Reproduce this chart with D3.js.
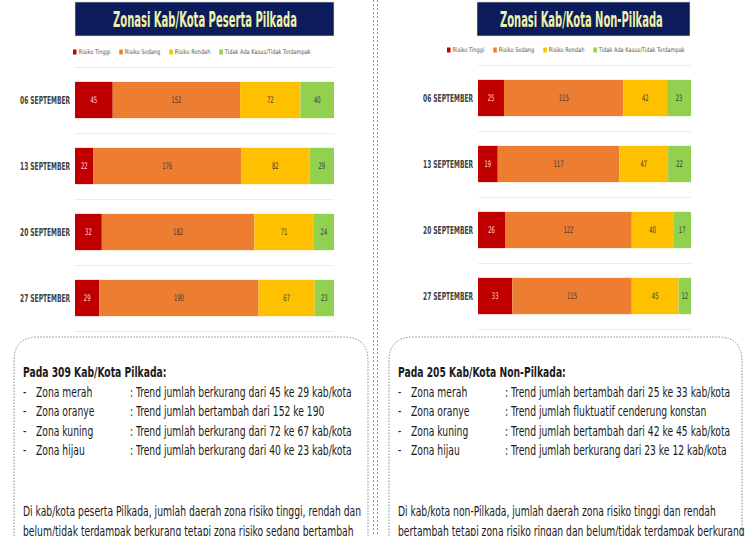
<!DOCTYPE html>
<html>
<head>
<meta charset="utf-8">
<script src="https://cdn.jsdelivr.net/npm/d3@7"></script>
<style>
  html, body { margin: 0; padding: 0; background: #fff; }
  svg { display: block; }
</style>
</head>
<body>
<svg id="chart" width="750" height="536"></svg>
<script>
// Zonasi kab/kota: two 4-week stacked bar panels plus their summary notes.

const dates = ['06 SEPTEMBER', '13 SEPTEMBER', '20 SEPTEMBER', '27 SEPTEMBER'];
const zones = ['Risiko Tinggi', 'Risiko Sedang', 'Risiko Rendah', 'Tidak Ada Kasus/Tidak Terdampak'];
const zoneColors = ['#c00000', '#ed7d31', '#ffc000', '#92d050'];

// counts per date, in zone order
const pilkadaTinggi = [45, 22, 32, 29];
const pilkadaSedang = [152, 176, 182, 190];
const pilkadaRendah = [72, 82, 71, 67];
const pilkadaHijau = [40, 29, 24, 23];

const nonTinggi = [25, 19, 26, 33];
const nonSedang = [115, 117, 122, 115];
const nonRendah = [42, 47, 40, 45];
const nonHijau = [23, 22, 17, 12];

const titles = ['Zonasi Kab/Kota Peserta Pilkada', 'Zonasi Kab/Kota Non-Pilkada'];

const notesPilkada = {
  head: 'Pada 309 Kab/Kota Pilkada:',
  rows: [
    ['Zona merah', ': Trend jumlah berkurang dari 45 ke 29 kab/kota'],
    ['Zona oranye', ': Trend jumlah bertambah dari 152 ke 190'],
    ['Zona kuning', ': Trend jumlah berkurang dari 72 ke 67 kab/kota'],
    ['Zona hijau', ': Trend jumlah berkurang dari 40 ke 23 kab/kota'],
  ],
  para: [
    'Di kab/kota peserta Pilkada, jumlah daerah zona risiko tinggi, rendah dan',
    'belum/tidak terdampak berkurang tetapi zona risiko sedang bertambah',
  ],
};
const notesNon = {
  head: 'Pada 205 Kab/Kota Non-Pilkada:',
  rows: [
    ['Zona merah', ': Trend jumlah bertambah dari 25 ke 33 kab/kota'],
    ['Zona oranye', ': Trend jumlah fluktuatif cenderung konstan'],
    ['Zona kuning', ': Trend jumlah bertambah dari 42 ke 45 kab/kota'],
    ['Zona hijau', ': Trend jumlah berkurang dari 23 ke 12 kab/kota'],
  ],
  para: [
    'Di kab/kota non-Pilkada, jumlah daerah zona risiko tinggi dan rendah',
    'bertambah tetapi zona risiko ringan dan belum/tidak terdampak berkurang',
  ],
};

const FONT = "'Liberation Sans Narrow', 'DejaVu Sans Condensed', 'Roboto', sans-serif";

const svg = d3.select('#chart');

// horizontal squeeze that makes `str` (at given size/weight) `w` px wide
function squeezeFor(str, size, weight, w) {
  const t = svg.append('text').attr('font-family', FONT).attr('font-size', size)
    .attr('font-weight', weight).text(str);
  const k = w / t.node().getComputedTextLength();
  t.remove();
  return k;
}

function rowsFrom(t, s, r, h) {
  return dates.map((d, i) => ({ date: d, vals: [t[i], s[i], r[i], h[i]] }));
}

const kDate = squeezeFor('06 SEPTEMBER', 10, 'bold', 50);
const kLegend = squeezeFor('Tidak Ada Kasus/Tidak Terdampak', 6.5, 'normal', 86);
const kValue = squeezeFor('152', 9, 'normal', 10);

function drawPanel(cfg) {
  const g = svg.append('g');
  const total = d3.sum(cfg.rows[0].vals);

  // title banner
  g.append('rect')
    .attr('x', cfg.titleX[0]).attr('y', 2)
    .attr('width', cfg.titleX[1] - cfg.titleX[0]).attr('height', 34)
    .attr('fill', '#0b1b5c')
    .attr('stroke', '#e9e6b8').attr('stroke-width', 0.6);
  const kt = squeezeFor(cfg.title, 21, 'bold', cfg.titleText[1]);
  g.append('text')
    .attr('font-family', FONT).attr('font-weight', 'bold')
    .attr('font-size', 21).attr('fill', '#eef2a6')
    .attr('transform', `translate(${cfg.titleText[0]},27) scale(${kt},1)`)
    .text(cfg.title);

  const x = d3.scaleLinear().domain([0, total]).range(cfg.xRange);
  const y = d3.scaleBand().domain(dates).range(cfg.yRange)
    .paddingInner(0.45).paddingOuter(0.225);

  // light separators between categories
  const step = y.step();
  g.append('g').selectAll('line')
    .data(d3.range(dates.length + 1))
    .join('line')
    .attr('x1', cfg.xRange[0]).attr('x2', cfg.xRange[1])
    .attr('y1', (i) => cfg.yRange[0] + i * step + 0.5)
    .attr('y2', (i) => cfg.yRange[0] + i * step + 0.5)
    .attr('stroke', '#ececec').attr('stroke-width', 1.2);

  // legend
  const lg = g.append('g').attr('transform', `translate(${cfg.legendX},${cfg.legendY})`);
  let lx = 0;
  zones.forEach((z, i) => {
    lg.append('rect').attr('x', lx).attr('y', -2.5).attr('width', 3.5).attr('height', 5)
      .attr('fill', zoneColors[i]);
    const t = lg.append('text')
      .attr('font-family', FONT).attr('font-size', 6.5).attr('fill', '#595959')
      .attr('transform', `translate(${lx + 5.5},2.3) scale(${kLegend},1)`)
      .text(z);
    lx += 5.5 + t.node().getComputedTextLength() * kLegend + 9;
  });

  // category labels
  g.append('g').selectAll('text')
    .data(cfg.rows)
    .join('text')
    .attr('transform', (d) =>
      `translate(${cfg.xRange[0] - 5},${y(d.date) + y.bandwidth() / 2 + 3.5}) scale(${kDate},1)`)
    .attr('text-anchor', 'end')
    .attr('font-family', FONT).attr('font-weight', 'bold')
    .attr('font-size', 10).attr('fill', '#404040')
    .text((d) => d.date);

  // stacked segments
  const segs = cfg.rows.flatMap((d) => {
    let acc = 0;
    return d.vals.map((v, i) => {
      const s = { date: d.date, v, i, x0: acc, x1: acc + v };
      acc += v;
      return s;
    });
  });

  g.append('g').selectAll('rect')
    .data(segs)
    .join('rect')
    .attr('x', (s) => x(s.x0))
    .attr('y', (s) => y(s.date))
    .attr('width', (s) => x(s.x1) - x(s.x0))
    .attr('height', y.bandwidth())
    .attr('fill', (s) => zoneColors[s.i]);

  g.append('g').selectAll('text')
    .data(segs)
    .join('text')
    .attr('transform', (s) =>
      `translate(${(x(s.x0) + x(s.x1)) / 2},${y(s.date) + y.bandwidth() / 2 + 3.2}) scale(${kValue},1)`)
    .attr('text-anchor', 'middle')
    .attr('font-family', FONT).attr('font-size', 9)
    .attr('fill', (s) => (s.i === 0 ? '#ffd9d9' : '#3a3a3a'))
    .text((s) => s.v);
}

function drawNotes(notes, bx, bw, squeeze) {
  const g = svg.append('g');
  const top = 337, r = 24;
  const bottom = 560;
  // open-bottom rounded box, dashed
  g.append('path')
    .attr('d', `M${bx},${bottom} V${top + r} Q${bx},${top} ${bx + r},${top} H${bx + bw - r}` +
      ` Q${bx + bw},${top} ${bx + bw},${top + r} V${bottom}`)
    .attr('fill', '#fff')
    .attr('stroke', '#8a8a8a').attr('stroke-width', 1)
    .attr('stroke-dasharray', '1.5,1.5');

  const tx = bx + 9;
  function put(str, x0, y0, bold) {
    g.append('text')
      .attr('font-family', FONT).attr('font-size', 14)
      .attr('font-weight', bold ? 'bold' : 'normal')
      .attr('fill', '#1a1a1a')
      .attr('transform', `translate(${x0},${y0}) scale(${squeeze},1)`)
      .text(str);
  }
  put(notes.head, tx, 377, true);
  notes.rows.forEach((row, i) => {
    const yy = 396.5 + i * 19.5;
    put('-', tx, yy, false);
    put(row[0], tx + 13, yy, false);
    put(row[1], tx + 107, yy, false);
  });
  put(notes.para[0], tx, 516, false);
  put(notes.para[1], tx, 536, false);
}

drawPanel({
  title: titles[0], rows: rowsFrom(pilkadaTinggi, pilkadaSedang, pilkadaRendah, pilkadaHijau),
  titleX: [75, 334], titleText: [113, 184],
  xRange: [75, 334], yRange: [67, 331],
  legendX: 73, legendY: 52,
});
drawPanel({
  title: titles[1], rows: rowsFrom(nonTinggi, nonSedang, nonRendah, nonHijau),
  titleX: [477, 690], titleText: [500, 163],
  xRange: [478, 691], yRange: [65, 329],
  legendX: 447, legendY: 50,
});

// dashed dividers between the two halves
[373, 377].forEach((xx) => {
  svg.append('line')
    .attr('x1', xx + 0.5).attr('x2', xx + 0.5).attr('y1', 0).attr('y2', 536)
    .attr('stroke', '#9a9a9a').attr('stroke-width', 1)
    .attr('stroke-dasharray', '2,2');
});

// squeeze factor for the notes: measured on one reference line
const kNotes = squeezeFor(': Trend jumlah berkurang dari 45 ke 29 kab/kota', 14, 'normal', 222);

drawNotes(notesPilkada, 14, 354, kNotes);
drawNotes(notesNon, 389, 353, kNotes);
</script>
</body>
</html>
